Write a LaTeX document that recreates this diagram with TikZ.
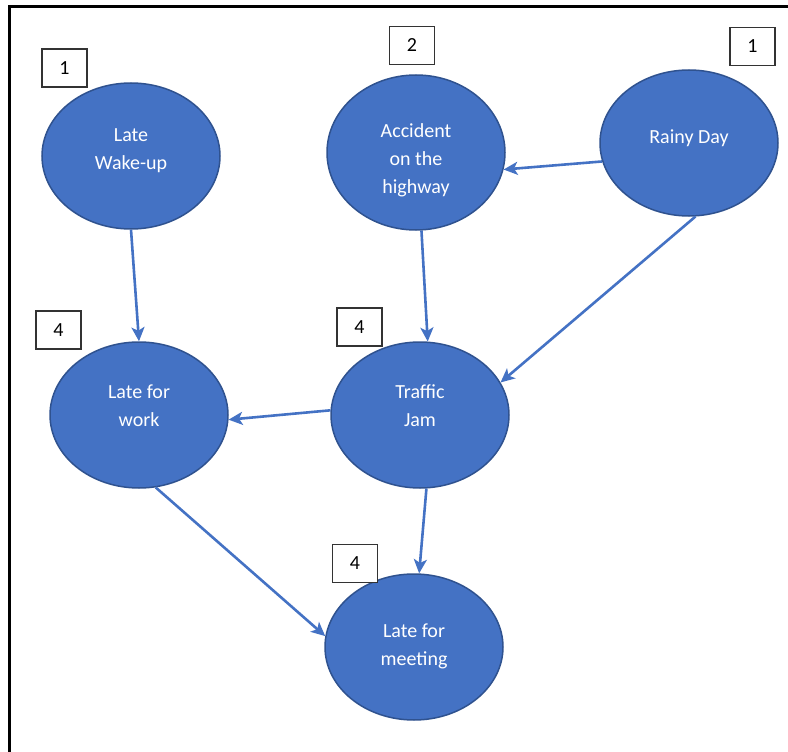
\documentclass[tikz,border=0pt]{standalone}
\usepackage{fontspec}
\setmainfont{Carlito}
\usetikzlibrary{shapes.geometric,arrows.meta}
\definecolor{nodefill}{HTML}{4472C4}
\definecolor{nodeline}{HTML}{2F528F}
\definecolor{edgecol}{HTML}{4472C4}
\begin{document}
\begin{tikzpicture}[x=1pt,y=-1pt,
  event/.style={ellipse, draw=nodeline, line width=1.5pt, fill=nodefill,
    inner sep=0pt, minimum width=178pt, minimum height=146pt},
  evtext/.style={text=white, align=center, inner sep=0pt,
    font=\fontsize{20}{28}\selectfont},
  countbox/.style={draw=black!80, line width=1.3pt, fill=white,
    minimum width=45pt, minimum height=38pt, inner sep=0pt,
    font=\fontsize{20}{24}\selectfont},
  link/.style={draw=edgecol, line width=2.6pt,
    -{Stealth[length=14pt,width=13pt,inset=3.5pt]}}]
  \useasboundingbox (0,0) rectangle (788,752);
  % outer frame (top and left edges)
  \draw[line width=3pt, line cap=butt] (9,752) -- (9,7) -- (788,7);

  % events
  \node[event, label={[evtext, yshift=5pt]center:Late\\Wake-up}]
    (wake) at (131,156) {};
  \node[event, minimum height=155pt,
        label={[evtext, yshift=-8pt]center:Accident\\on the\\highway}]
    (acc) at (416,152.5) {};
  \node[event, label={[evtext, yshift=5pt]center:Rainy Day}]
    (rain) at (689,143) {};
  \node[event, label={[evtext, yshift=9pt]center:Late for\\work}]
    (work) at (139,415) {};
  \node[event, label={[evtext, yshift=9pt]center:Traffic\\Jam}]
    (traffic) at (420,415) {};
  \node[event, label={[evtext, yshift=1pt]center:Late for\\meeting}]
    (meet) at (414,647) {};

  % counts
  \node[countbox] (cwake)    at (64.5,68)  {1};
  \node[countbox] (cacc)     at (412,45.5) {2};
  \node[countbox] (crain)    at (752.5,46.5) {1};
  \node[countbox] (cwork)    at (58.5,330) {4};
  \node[countbox] (ctraffic) at (359.5,327) {4};
  \node[countbox] (cmeet)    at (355,563.5) {4};

  % causal links
  \draw[link] (wake.south)  -- (work.north);
  \draw[link] (acc.-86)     -- (traffic.84);
  \draw[link] (rain.-168)   -- (acc.-11);
  \draw[link] (rain.-85)    -- (traffic.22);
  \draw[link] (traffic.177) -- (work.-3);
  \draw[link] (work.-77)    -- (meet.173);
  \draw[link] (traffic.-85) -- (meet.86);
\end{tikzpicture}
\end{document}
